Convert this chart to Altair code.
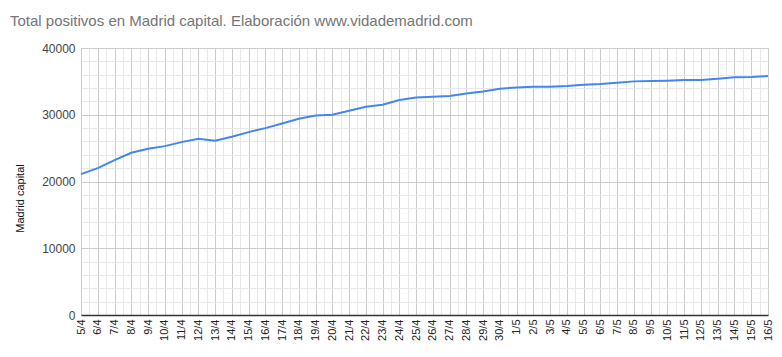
import altair as alt
import pandas as pd

dates = ["5/4", "6/4", "7/4", "8/4", "9/4", "10/4", "11/4", "12/4", "13/4", "14/4",
         "15/4", "16/4", "17/4", "18/4", "19/4", "20/4", "21/4", "22/4", "23/4", "24/4",
         "25/4", "26/4", "27/4", "28/4", "29/4", "30/4", "1/5", "2/5", "3/5", "4/5",
         "5/5", "6/5", "7/5", "8/5", "9/5", "10/5", "11/5", "12/5", "13/5", "14/5",
         "15/5", "16/5"]
positivos = [21100, 22000, 23200, 24300, 24900, 25300, 25900, 26400, 26100, 26700,
             27400, 28000, 28700, 29400, 29900, 30000, 30600, 31200, 31500, 32200,
             32600, 32700, 32800, 33200, 33500, 33900, 34100, 34200, 34200, 34300,
             34500, 34600, 34800, 35000, 35050, 35100, 35200, 35200, 35400, 35600,
             35650, 35800]
y_ticks = [0, 10000, 20000, 30000, 40000]
y_minor = [v for v in range(0, 40001, 2000) if v % 10000 != 0]

df = pd.DataFrame({"i": list(range(len(dates))), "fecha": dates, "v": positivos})
n = len(dates)
label_arr = "[" + ",".join("'" + d + "'" for d in dates) + "]"

FONT = "Liberation Sans"

xscale = alt.Scale(domain=[0, n - 1], nice=False, zero=False)
yscale = alt.Scale(domain=[0, 40000], nice=False)

minor = alt.Chart(df).mark_line(opacity=0).encode(
    x=alt.X("i:Q", scale=xscale,
            axis=alt.Axis(orient="top", values=[k + 0.5 for k in range(n - 1)],
                          labels=False, ticks=False, domain=False, title=None,
                          grid=True, gridColor="#e8e8e8", gridWidth=1)),
    y=alt.Y("v:Q", scale=yscale,
            axis=alt.Axis(orient="right", values=y_minor, labels=False, ticks=False,
                          domain=False, title=None, grid=True, gridColor="#e8e8e8",
                          gridWidth=1)),
)

main = alt.Chart(df).mark_line(color="#4285f4", strokeWidth=2).encode(
    x=alt.X("i:Q", scale=xscale,
            axis=alt.Axis(values=list(range(n)), labelExpr=label_arr + "[datum.value]",
                          labelAngle=270, labelFontSize=11, labelColor="#222222",
                          labelFont=FONT, labelPadding=4, ticks=False,
                          domain=True, domainColor="#333333", domainWidth=1.5,
                          grid=True, gridColor="#cccccc", title=None,
                          labelOverlap=False, labelBound=False, labelFlush=False)),
    y=alt.Y("v:Q", scale=yscale,
            axis=alt.Axis(values=y_ticks, format="d", labelFontSize=12,
                          labelColor="#444444",
                          labelFont=FONT, labelPadding=6, ticks=False, domain=False,
                          grid=True, gridColor="#cccccc", title="Madrid capital",
                          titleFont=FONT, titleFontSize=11, titleFontWeight="normal",
                          titleColor="#111111", titlePadding=16, titleY=150)),
)

chart = alt.layer(minor, main).resolve_axis(x="independent", y="independent").properties(
    width=687,
    height=267,
    padding={"left": 73, "top": 40, "right": 6, "bottom": 34},
    autosize=alt.AutoSizeParams(type="none"),
    title=alt.TitleParams(
        text="Total positivos en Madrid capital. Elaboración www.vidademadrid.com",
        anchor="start", frame="group", dx=-71, dy=-9, font=FONT,
        fontSize=15, fontWeight="normal", color="#757575",
    ),
).configure_view(stroke=None).configure(background="white")

chart.save("out.html", embed_options={"renderer": "svg", "actions": False})
